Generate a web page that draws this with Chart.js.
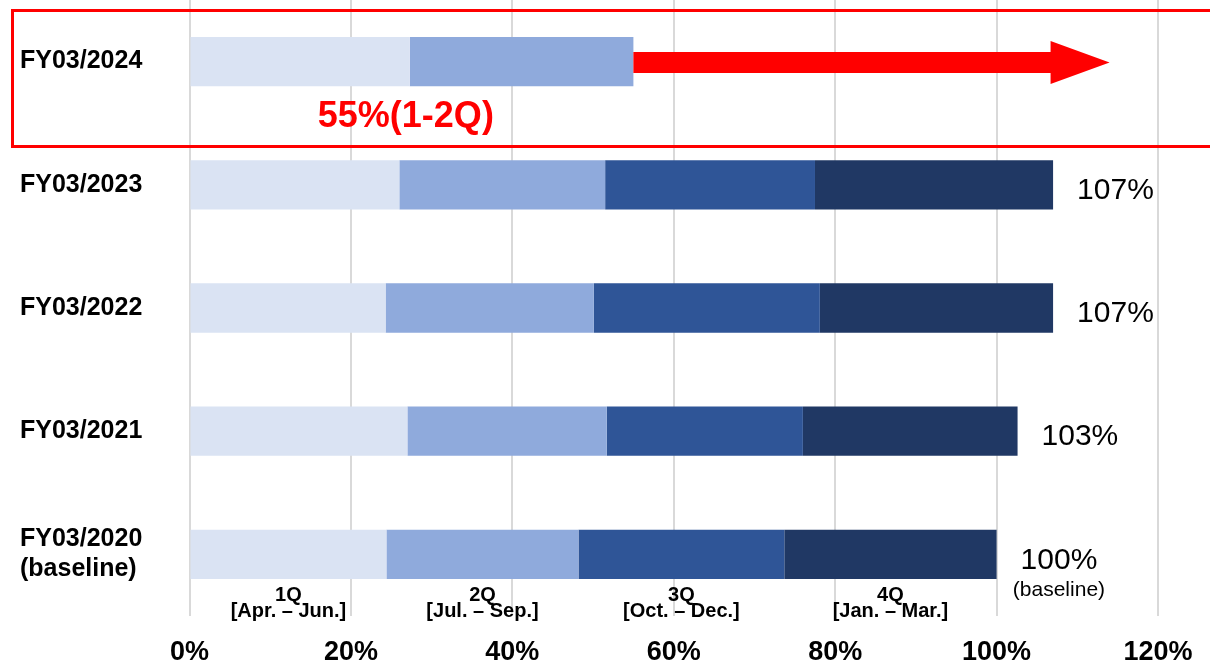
<!DOCTYPE html>
<html>
<head>
<meta charset="utf-8">
<script src="https://cdn.jsdelivr.net/npm/chart.js@4/dist/chart.umd.min.js"></script>
<style>
  html, body { margin: 0; padding: 0; background: #ffffff; }
  #wrap { width: 1210px; height: 663px; }
</style>
</head>
<body>
<div id="wrap"><canvas id="chart" width="1210" height="663"></canvas></div>
<script>
// Fiscal years, top to bottom
const fiscalYears = ['FY03/2024', 'FY03/2023', 'FY03/2022', 'FY03/2021', ['FY03/2020', '(baseline)']];

// Quarterly share of the baseline year's full-year total (%)
const q1Values = [27.3, 26.0, 24.3, 27.0, 24.4];
const q2Values = [27.7, 25.5, 25.8, 24.7, 23.8];
const q3Values = [null, 26.0, 28.0, 24.3, 25.5];
const q4Values = [null, 29.5, 28.9, 26.6, 26.3];

const quarterNames = ['1Q', '2Q', '3Q', '4Q'];
const quarterMonths = ['[Apr. \u2013 Jun.]', '[Jul. \u2013 Sep.]', '[Oct. \u2013 Dec.]', '[Jan. \u2013 Mar.]'];

const axisTicks = [0, 20, 40, 60, 80, 100, 120];
const currentYearIndex = 0;
const baselineIndex = 4;
const arrowTargetPct = 114;

const FONT = '"Liberation Sans", Arial, sans-serif';
const quarterColors = ['#DAE3F3', '#8FAADC', '#2F5597', '#203864'];
const series = [q1Values, q2Values, q3Values, q4Values];

const totals = fiscalYears.map((_, i) => series.reduce((s, arr) => s + (arr[i] || 0), 0));

// Annotations drawn on top of the bars: totals, quarter captions, current-year arrow and frame
const annotationPlugin = {
  id: 'annotations',
  afterDatasetsDraw(chart) {
    const ctx = chart.ctx;
    const xs = chart.scales.x;
    const ys = chart.scales.y;
    ctx.save();

    // Totals to the right of completed years
    ctx.fillStyle = '#000000';
    ctx.textAlign = 'left';
    ctx.textBaseline = 'middle';
    fiscalYears.forEach((_, i) => {
      if (i === currentYearIndex) return;
      const end = xs.getPixelForValue(totals[i]);
      const cy = ys.getPixelForValue(i);
      ctx.font = '30px ' + FONT;
      const txt = Math.round(totals[i]) + '%';
      ctx.fillText(txt, end + 24, cy + 6);
      if (i === baselineIndex) {
        const w = ctx.measureText(txt).width;
        ctx.font = '21px ' + FONT;
        ctx.textAlign = 'center';
        ctx.fillText('(baseline)', end + 24 + w / 2, cy + 36);
        ctx.textAlign = 'left';
      }
    });

    // Quarter captions under the baseline bar
    ctx.textAlign = 'center';
    ctx.font = 'bold 20px ' + FONT;
    quarterNames.forEach((name, qi) => {
      const el = chart.getDatasetMeta(qi).data[baselineIndex];
      const cx = (el.x + el.base) / 2;
      ctx.fillText(name, cx, 595);
      ctx.fillText(quarterMonths[qi], cx, 611);
    });

    // Current-year arrow toward the full-year mark
    const curEnd = xs.getPixelForValue(totals[currentYearIndex]);
    const tip = xs.getPixelForValue(arrowTargetPct);
    const ay = ys.getPixelForValue(currentYearIndex) + 1;
    const headLen = 59, shaftHalf = 10.5, headHalf = 21.5;
    ctx.fillStyle = '#FF0000';
    ctx.beginPath();
    ctx.moveTo(curEnd, ay - shaftHalf);
    ctx.lineTo(tip - headLen, ay - shaftHalf);
    ctx.lineTo(tip - headLen, ay - headHalf);
    ctx.lineTo(tip, ay);
    ctx.lineTo(tip - headLen, ay + headHalf);
    ctx.lineTo(tip - headLen, ay + shaftHalf);
    ctx.lineTo(curEnd, ay + shaftHalf);
    ctx.closePath();
    ctx.fill();

    // Half-year progress label
    const split = xs.getPixelForValue(q1Values[currentYearIndex]);
    ctx.font = 'bold 36px ' + FONT;
    ctx.textAlign = 'center';
    ctx.fillText(Math.round(totals[currentYearIndex]) + '%(1-2Q)', split - 4, ay + 54);

    // Frame around the current year
    ctx.strokeStyle = '#FF0000';
    ctx.lineWidth = 3;
    ctx.strokeRect(12.5, 10.5, chart.width + 20, 136);

    ctx.restore();
  }
};

new Chart(document.getElementById('chart'), {
  type: 'bar',
  data: {
    labels: fiscalYears,
    datasets: series.map((vals, qi) => ({
      label: quarterNames[qi],
      data: vals,
      backgroundColor: quarterColors[qi],
      borderWidth: 0,
      categoryPercentage: 1,
      barPercentage: 0.4
    }))
  },
  options: {
    indexAxis: 'y',
    responsive: false,
    animation: false,
    layout: { padding: { left: 20, right: 52, top: 0, bottom: 0 } },
    plugins: {
      legend: { display: false },
      tooltip: { enabled: false }
    },
    scales: {
      x: {
        stacked: true,
        min: axisTicks[0],
        max: axisTicks[axisTicks.length - 1],
        afterBuildTicks(scale) { scale.ticks = axisTicks.map(v => ({ value: v })); },
        afterFit(scale) {
          scale.height = 47;
          scale.paddingLeft = 0;
          scale.paddingRight = 0;
        },
        grid: { color: '#D9D9D9', lineWidth: 2, drawTicks: false },
        border: { display: false },
        ticks: {
          padding: 20,
          color: '#000000',
          font: { family: FONT, size: 27, weight: 'bold' },
          callback: v => v + '%'
        }
      },
      y: {
        stacked: true,
        afterFit(scale) {
          scale.width = 169.5;
          scale.paddingTop = 0;
          scale.paddingBottom = 0;
        },
        grid: { display: false },
        border: { display: false },
        ticks: {
          crossAlign: 'far',
          color: '#000000',
          font: { family: FONT, size: 25, weight: 'bold', lineHeight: 1.2 }
        }
      }
    }
  },
  plugins: [annotationPlugin]
});
</script>
</body>
</html>
